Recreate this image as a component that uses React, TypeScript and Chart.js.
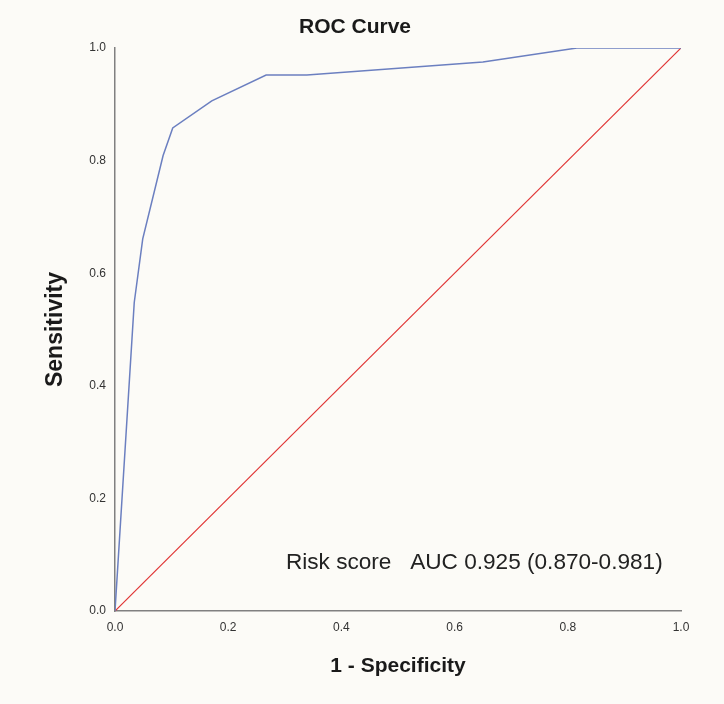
import React, { useEffect, useRef } from "react";
import { Chart, registerables } from "chart.js";

Chart.register(...registerables);

const rocFpr = [0, 0.034, 0.049, 0.085, 0.102, 0.171, 0.267, 0.339, 0.65, 0.816, 1.0];
const rocTpr = [0, 0.548, 0.661, 0.809, 0.858, 0.906, 0.952, 0.952, 0.975, 1.0, 1.0];
const refFpr = [0, 1];
const refTpr = [0, 1];
const tickValues = [0, 0.2, 0.4, 0.6, 0.8, 1.0];
const chartTitle = "ROC Curve";
const xTitle = "1 - Specificity";
const yTitle = "Sensitivity";
const annotation = "Risk score   AUC 0.925 (0.870-0.981)";

const FONT = "'Liberation Sans', Arial, sans-serif";

export default function App() {
  const ref = useRef<HTMLCanvasElement | null>(null);

  useEffect(() => {
    if (!ref.current) return;
    const bgPlugin = {
      id: "bg",
      beforeDraw(chart: any) {
        const { ctx, width, height } = chart;
        ctx.save();
        ctx.fillStyle = "#fcfbf7";
        ctx.fillRect(0, 0, width, height);
        ctx.restore();
      },
    };
    const notePlugin = {
      id: "note",
      afterDatasetsDraw(chart: any) {
        const { ctx } = chart;
        const xs = chart.scales.x;
        const ys = chart.scales.y;
        ctx.save();
        ctx.font = `22.6px ${FONT}`;
        ctx.fillStyle = "#222222";
        ctx.textAlign = "left";
        ctx.textBaseline = "middle";
        ctx.fillText(annotation, xs.getPixelForValue(0.302), ys.getPixelForValue(0.085));
        ctx.restore();
      },
    };
    const chart = new Chart(ref.current, {
      type: "line",
      data: {
        datasets: [
          {
            label: "Risk score",
            data: rocFpr.map((x, i) => ({ x, y: rocTpr[i] })),
            borderColor: "#6b7fc0",
            borderWidth: 1.5,
            pointRadius: 0,
            tension: 0,
            fill: false,
          },
          {
            label: "Reference",
            data: refFpr.map((x, i) => ({ x, y: refTpr[i] })),
            borderColor: "#e03434",
            borderWidth: 1.2,
            pointRadius: 0,
            tension: 0,
            fill: false,
          },
        ],
      },
      options: {
        responsive: false,
        animation: false,
        layout: { padding: { left: 0, right: 14, top: 0, bottom: 0 } },
        plugins: {
          legend: { display: false },
          tooltip: { enabled: false },
          title: {
            display: true,
            text: chartTitle,
            color: "#1a1a1a",
            font: { family: FONT, size: 21, weight: "bold" },
            padding: { top: 14.4, bottom: 8.4 },
          },
        },
        scales: {
          x: {
            type: "linear",
            min: 0,
            max: 1,
            afterBuildTicks(scale: any) {
              scale.ticks = tickValues.map((v) => ({ value: v }));
            },
            afterFit(scale: any) {
              scale.height = 93;
              scale.paddingRight = 43;
            },
            grid: { display: false, drawTicks: false },
            border: { display: true, color: "#808080", width: 1.5 },
            ticks: {
              color: "#333333",
              font: { family: FONT, size: 12 },
              padding: 9,
              maxRotation: 0,
              callback: (v: any) => Number(v).toFixed(1),
            },
            title: {
              display: true,
              text: xTitle,
              color: "#1a1a1a",
              font: { family: FONT, size: 21, weight: "bold" },
              padding: { top: 0, bottom: 25.4 },
            },
          },
          y: {
            type: "linear",
            min: 0,
            max: 1,
            afterBuildTicks(scale: any) {
              scale.ticks = tickValues.map((v) => ({ value: v }));
            },
            afterFit(scale: any) {
              scale.width = 115;
            },
            grid: { display: false, drawTicks: false },
            border: { display: true, color: "#808080", width: 1.5 },
            ticks: {
              color: "#333333",
              font: { family: FONT, size: 12 },
              padding: 9,
              callback: (v: any) => Number(v).toFixed(1),
            },
            title: {
              display: true,
              text: yTitle,
              color: "#1a1a1a",
              font: { family: FONT, size: 23, weight: "bold" },
              padding: { top: 41.7, bottom: 0 },
            },
          },
        },
      },
      plugins: [bgPlugin, notePlugin],
    });
    return () => chart.destroy();
  }, []);

  return (
    <div style={{ position: "absolute", left: 0, top: 0, width: 724, height: 704 }}>
      <canvas ref={ref} width={724} height={704} style={{ display: "block" }} />
    </div>
  );
}
